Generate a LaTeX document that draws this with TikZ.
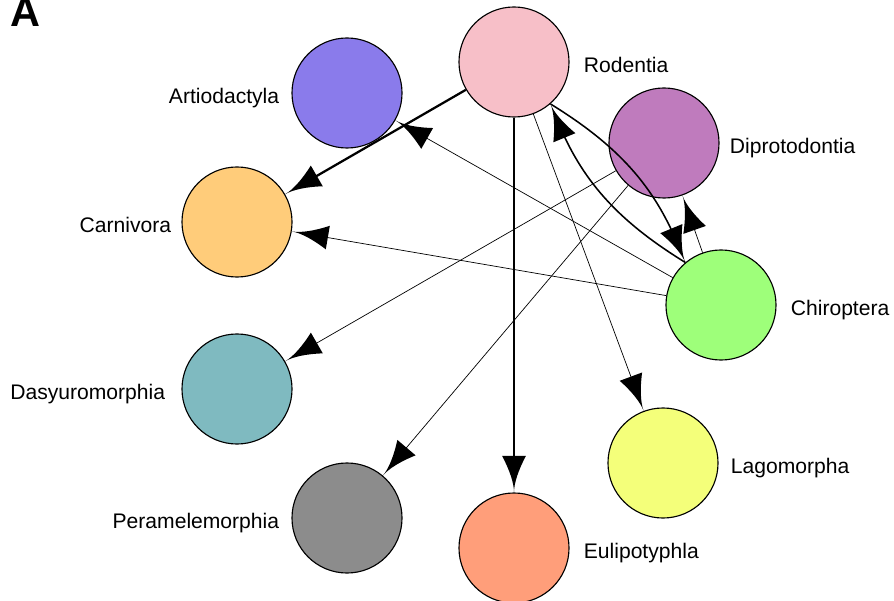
\documentclass[tikz,border=0pt]{standalone}
\usepackage{fontspec}
\setmainfont{Liberation Sans}
\usetikzlibrary{positioning, arrows.meta}
\definecolor{RodentiaPink}{HTML}{F7BFC8}
\definecolor{ArtioViolet}{HTML}{8A7BEB}
\definecolor{DiproMauve}{HTML}{BF7BBD}
\definecolor{CarniOrange}{HTML}{FFCC7A}
\definecolor{ChiroGreen}{HTML}{9EFF7A}
\definecolor{DasyTeal}{HTML}{7FBAC0}
\definecolor{LagoYellow}{HTML}{F4FF7A}
\definecolor{PeraGray}{HTML}{8C8C8C}
\definecolor{EuliSalmon}{HTML}{FF9E7A}

% concave spike tip
\pgfdeclarearrow{
  name = Spike,
  parameters = {\the\pgfarrowlength,\the\pgfarrowwidth},
  setup code = {
    \pgfarrowssettipend{0pt}
    \pgfarrowssetlineend{-.5\pgfarrowlength}
    \pgfarrowssetvisualbackend{-\pgfarrowlength}
    \pgfarrowssetbackend{-\pgfarrowlength}
    \pgfarrowshullpoint{0pt}{0pt}
    \pgfarrowsupperhullpoint{-\pgfarrowlength}{.5\pgfarrowwidth}
    \pgfarrowssavethe\pgfarrowlength
    \pgfarrowssavethe\pgfarrowwidth
  },
  drawing code = {
    \pgfpathmoveto{\pgfqpoint{0pt}{0pt}}
    \pgfpathcurveto{\pgfqpoint{-.25\pgfarrowlength}{0pt}}{\pgfqpoint{-.6\pgfarrowlength}{.175\pgfarrowwidth}}{\pgfqpoint{-\pgfarrowlength}{.5\pgfarrowwidth}}
    \pgfpathlineto{\pgfqpoint{-\pgfarrowlength}{-.5\pgfarrowwidth}}
    \pgfpathcurveto{\pgfqpoint{-.6\pgfarrowlength}{-.175\pgfarrowwidth}}{\pgfqpoint{-.25\pgfarrowlength}{0pt}}{\pgfqpoint{0pt}{0pt}}
    \pgfpathclose
    \pgfusepathqfill
  },
  defaults = {length = 26pt, width = 17pt}
}

\begin{document}
\begin{tikzpicture}[x=0.025cm, y=0.025cm,
    taxon/.style={circle, draw=black, line width=0.8pt, minimum size=2.75cm, inner sep=0pt},
    tag/.style={font=\fontsize{15}{18}\selectfont, inner sep=0pt, text height=11pt, text depth=0pt, yshift=-0.07cm},
    thinlink/.style={-{Spike}, line width=0.5pt},
    boldlink/.style={-{Spike}, line width=1.6pt},
    curvelink/.style={-{Spike}, line width=1.1pt, bend left=18}]
  \useasboundingbox (0,0) rectangle (894,600);

  % Panel letter
  \node[anchor=base west, inner sep=0pt, font=\fontsize{29.5}{30}\selectfont\bfseries] (panel) at (10,573) {A};

  % Orders
  \node[taxon, fill=RodentiaPink] (rod) at (514,538) {};
  \node[taxon, fill=ArtioViolet] (art) at (347,507) {};
  \node[taxon, fill=DiproMauve] (dip) at (664,457) {};
  \node[taxon, fill=CarniOrange] (car) at (237,378) {};
  \node[taxon, fill=ChiroGreen] (chi) at (721,295) {};
  \node[taxon, fill=DasyTeal] (das) at (237,211) {};
  \node[taxon, fill=LagoYellow] (lag) at (663,137) {};
  \node[taxon, fill=PeraGray] (per) at (347,82) {};
  \node[taxon, fill=EuliSalmon] (eul) at (514,52) {};

  % Labels
  \node[tag, right=0.35cm of rod] (rodtag) {Rodentia};
  \node[tag, left=0.3cm of art] (arttag) {Artiodactyla};
  \node[tag, right=0.25cm of dip] (diptag) {Diprotodontia};
  \node[tag, left=0.25cm of car] (cartag) {Carnivora};
  \node[tag, right=0.35cm of chi] (chitag) {Chiroptera};
  \node[tag, left=0.4cm of das] (dastag) {Dasyuromorphia};
  \node[tag, right=0.3cm of lag] (lagtag) {Lagomorpha};
  \node[tag, left=0.3cm of per] (pertag) {Peramelemorphia};
  \node[tag, right=0.35cm of eul] (eultag) {Eulipotyphla};

  % Links
  \draw[boldlink] (rod) -- (car);
  \draw[boldlink] (rod) -- (eul);
  \draw[thinlink] (rod) -- (lag);
  \draw[curvelink] (rod.-49.6) to (chi.130.4);
  \draw[curvelink] (chi.130.4) to (rod.-49.6);
  \draw[thinlink] (chi) -- (dip);
  \draw[thinlink] (chi) -- (art);
  \draw[thinlink] (chi) -- (car);
  \draw[thinlink] (dip) -- (das);
  \draw[thinlink] (dip) -- (per);
\end{tikzpicture}
\end{document}
